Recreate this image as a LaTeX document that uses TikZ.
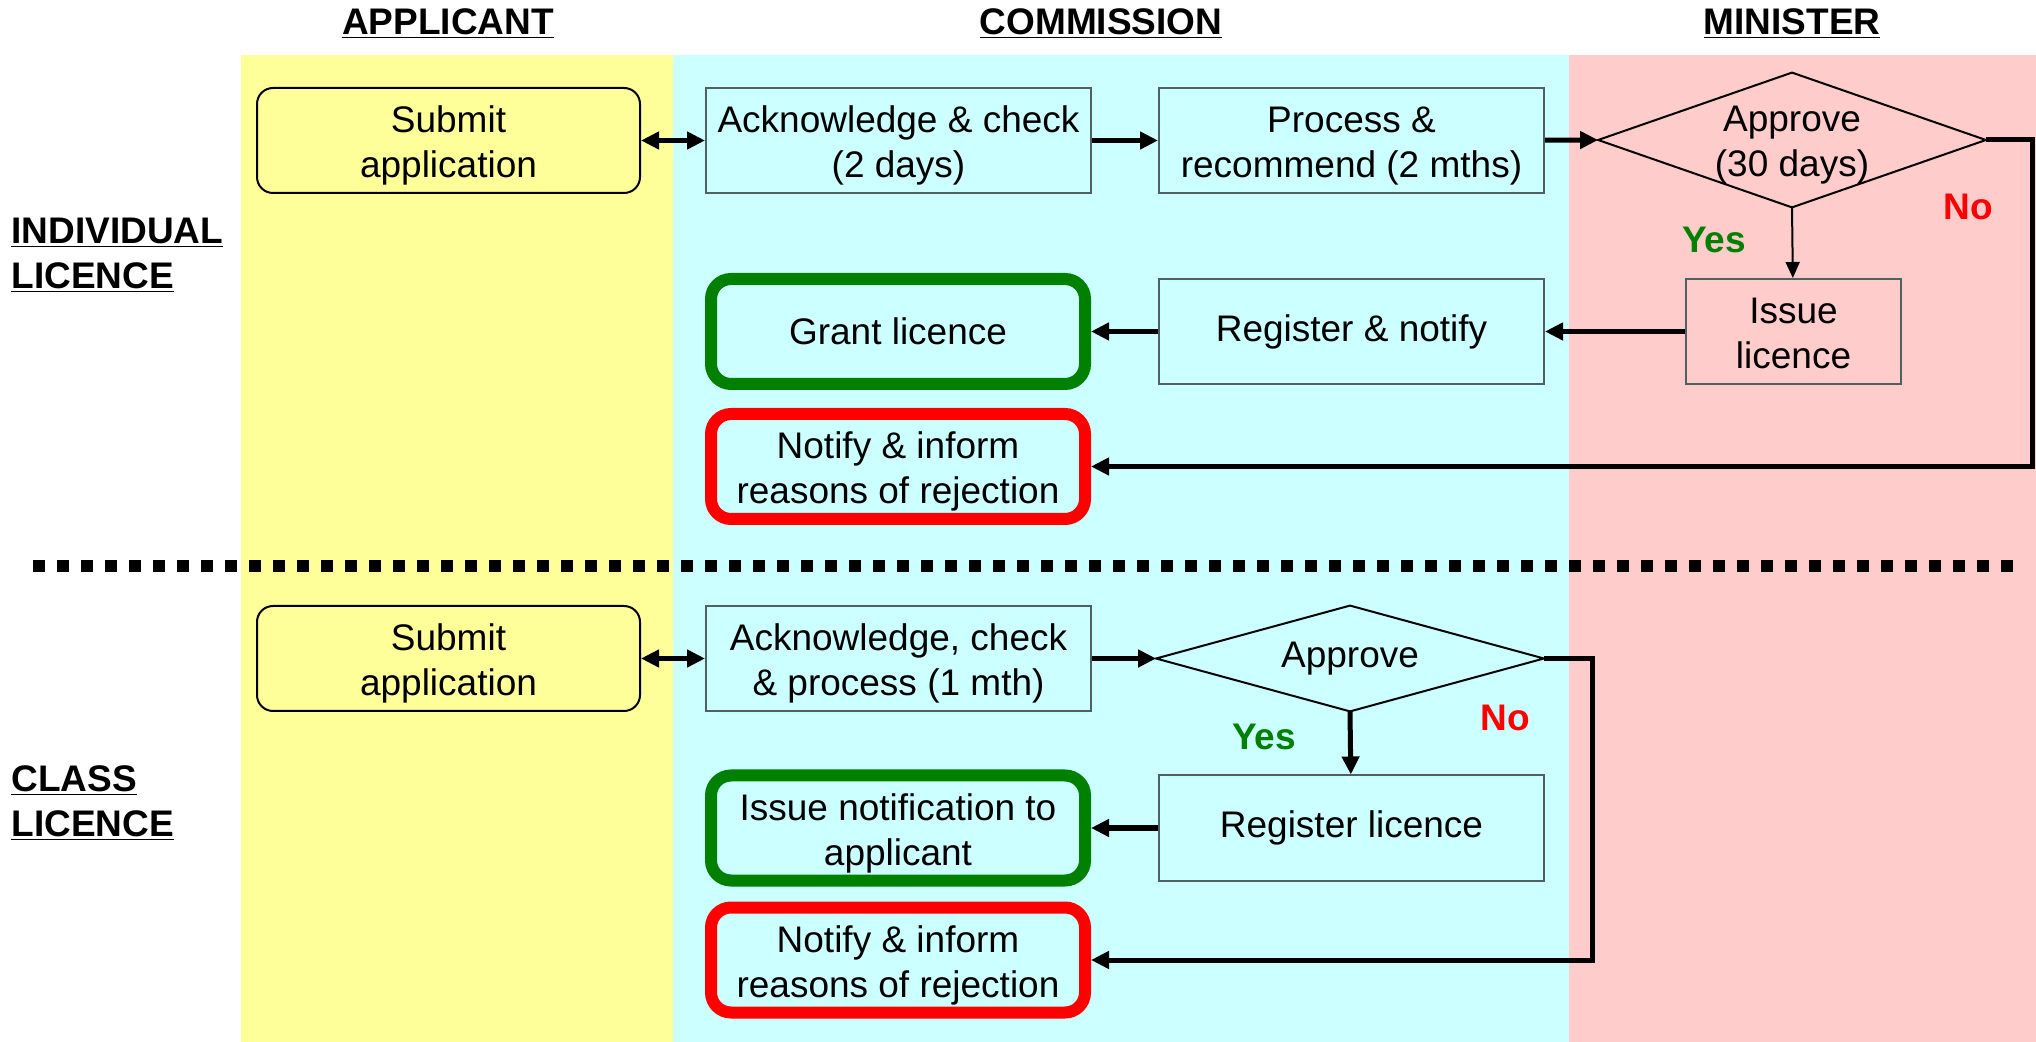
\documentclass[tikz,border=0pt]{standalone}
\usepackage{fontspec}
\setmainfont{Liberation Sans}
\usetikzlibrary{arrows.meta}

\definecolor{laneapp}{RGB}{255,255,153}
\definecolor{lanecom}{RGB}{204,255,255}
\definecolor{lanemin}{RGB}{255,204,204}
\definecolor{boxedge}{RGB}{80,96,96}
\definecolor{okgreen}{RGB}{0,128,0}
\definecolor{nored}{RGB}{255,0,0}

\tikzset{
  txt/.style={font=\fontsize{18.5pt}{22.5pt}\selectfont, align=center, inner sep=0pt},
  twoline/.style={text height=40pt, text depth=3pt},
  lbl/.style={font=\fontsize{18.5pt}{22.5pt}\selectfont\bfseries, inner sep=0pt},
  stepbox/.style={txt, draw=boxedge, line width=1pt, minimum width=192.5pt, minimum height=52.5pt},
  appbox/.style={txt, draw=black, line width=1pt, rounded corners=8pt, fill=laneapp, minimum width=191.5pt, minimum height=52.5pt},
  okbox/.style={txt, draw=okgreen, line width=6pt, rounded corners=10pt, minimum width=187pt, minimum height=52.5pt},
  nobox/.style={okbox, draw=nored},
  decide/.style={txt, minimum width=193.5pt},
  flow/.style={line width=2.5pt, -{Triangle[length=9pt,width=8.5pt]}},
  both/.style={line width=2.5pt, {Triangle[length=9pt,width=8.5pt]}-{Triangle[length=9pt,width=8.5pt]}},
  thinflow/.style={line width=1pt, -{Triangle[length=8pt,width=7pt]}},
}

\begin{document}
\begin{tikzpicture}[x=0.5pt,y=0.5pt,yscale=-1]
\useasboundingbox (0,0) rectangle (2036,1042);

%Shape: Lanes
\fill [laneapp] (241,55) rectangle (673,1042);
\fill [lanecom] (673,55) rectangle (1569,1042);
\fill [lanemin] (1569,55) rectangle (2036,1042);

% Text Node
\node [lbl] (hdapp) at (448,24) {\underline{APPLICANT}};
\node [lbl] (hdcom) at (1101,24) {\underline{COMMISSION}};
\node [lbl] (hdmin) at (1792,24) {\underline{MINISTER}};
\node [lbl, anchor=west, align=left] (rowind) at (11,255) {\underline{INDIVIDUAL}\\\underline{LICENCE}};
\node [lbl, anchor=west, align=left] (rowcls) at (11,803) {\underline{CLASS}\\\underline{LICENCE}};

%Straight Lines: separator
\draw [line width=6pt, dash pattern=on 6pt off 6pt] (33,566.5) -- (2013,566.5);

%Individual licence
\node [appbox, twoline] (sub1) at (448.5,140.5) {Submit\\application};
\node [stepbox, twoline] (ack1) at (898.5,140.5) {Acknowledge \& check\\(2 days)};
\node [stepbox, twoline] (proc1) at (1351.5,140.5) {Process \&\\recommend (2 mths)};
\node [decide, twoline, minimum height=67pt] (dia1) at (1792,140) {Approve\\(30 days)};
\draw [line width=1pt] (dia1.west) -- (dia1.north) -- (dia1.east) -- (dia1.south) -- cycle;
\node [stepbox, twoline, minimum width=107.5pt] (iss1) at (1793.5,331.5) {Issue\\licence};
\node [stepbox] (reg1) at (1351.5,331.5) {Register \& notify};
\node [okbox] (grant1) at (898,331.5) {Grant licence};
\node [nobox, twoline] (rej1) at (898,466.5) {Notify \& inform\\reasons of rejection};
\coordinate (nobend1) at (2032,140);

\draw [both] (sub1) -- (ack1);
\draw [flow] (ack1) -- (proc1);
\draw [flow] (proc1) -- (dia1.west);
\draw [thinflow] (dia1.south) -- (iss1);
\draw [flow] (iss1) -- (reg1);
\draw [flow] (reg1) -- (grant1);
\draw [flow] (dia1.east) -- (nobend1) |- (rej1);
\node [lbl, text=okgreen] (yes1) at (1714,240) {Yes};
\node [lbl, text=nored] (no1) at (1968,207) {No};

%Class licence
\node [appbox, twoline] (sub2) at (448.5,658.5) {Submit\\application};
\node [stepbox, twoline] (ack2) at (898.5,658.5) {Acknowledge, check\\\& process (1 mth)};
\node [decide, minimum height=52.5pt] (dia2) at (1350,658.5) {Approve};
\draw [line width=1pt] (dia2.west) -- (dia2.north) -- (dia2.east) -- (dia2.south) -- cycle;
\node [stepbox] (reg2) at (1351.5,828) {Register licence};
\node [okbox, twoline] (grant2) at (898,828) {Issue notification to\\applicant};
\node [nobox, twoline] (rej2) at (898,960) {Notify \& inform\\reasons of rejection};
\coordinate (nobend2) at (1592,658.5);

\draw [both] (sub2) -- (ack2);
\draw [flow] (ack2) -- (dia2.west);
\draw [flow] (dia2.south) -- (reg2);
\draw [flow] (reg2) -- (grant2);
\draw [flow] (dia2.east) -- (nobend2) |- (rej2);
\node [lbl, text=okgreen] (yes2) at (1264,737) {Yes};
\node [lbl, text=nored] (no2) at (1505,718) {No};

\end{tikzpicture}
\end{document}
